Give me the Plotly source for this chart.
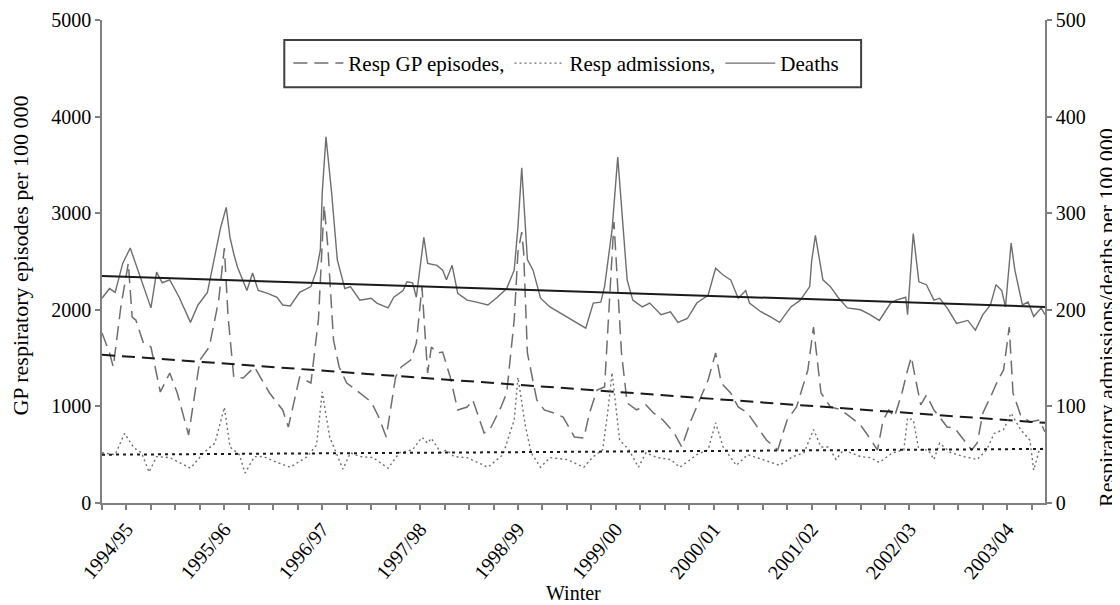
import plotly.graph_objects as go

# ---------------- data (x = weeks from start of series) ----------------
winter_labels = ["1994/95", "1995/96", "1996/97", "1997/98", "1998/99",
                 "1999/00", "2000/01", "2001/02", "2002/03", "2003/04"]
winter_weeks = [13, 65, 117, 169, 221, 273, 325, 377, 429, 481]

gp_weeks = [0, 4, 6, 10, 14, 16, 18, 22, 26, 31, 36, 40, 46, 52, 57, 62, 65, 67, 70, 75,
            81, 84, 89, 96, 99, 105, 111, 115, 117, 118, 120, 123, 126, 130, 135, 143, 147, 151, 156, 159,
            164, 167, 170, 173, 175, 178, 181, 185, 189, 194, 197, 203, 206, 212, 215, 219, 221, 223, 224, 226,
            231, 235, 240, 245, 251, 256, 259, 263, 267, 269, 272, 276, 279, 284, 289, 293, 298, 304, 308, 313,
            318, 322, 326, 329, 334, 338, 343, 348, 353, 359, 364, 369, 375, 378, 382, 387, 392, 397, 403, 406,
            412, 415, 418, 421, 425, 428, 430, 432, 435, 438, 442, 445, 449, 453, 458, 462, 465, 468, 473, 476,
            479, 482, 484, 488, 493, 498, 501]
gp_episodes = [1760, 1553, 1408, 2029, 2484, 1925, 1894, 1656, 1615, 1149, 1346, 1139, 704, 1480, 1615, 2100, 2640, 1925, 1304, 1294,
               1408, 1304, 1139, 963, 787, 1304, 1242, 1900, 2650, 3085, 2650, 1687, 1408, 1242, 1170, 1046, 890, 683, 1304, 1408,
               1480, 1656, 2236, 1346, 1615, 1553, 1563, 1304, 963, 994, 1066, 725, 756, 994, 1139, 1894, 2600, 2805, 2600, 1553,
               1066, 963, 932, 890, 683, 673, 932, 1170, 1201, 1894, 2909, 1553, 1035, 963, 1015, 932, 859, 725, 580, 859,
               1097, 1273, 1553, 1242, 1139, 994, 932, 787, 652, 549, 859, 994, 1377, 1822, 1139, 994, 970, 900, 807, 725,
               549, 859, 963, 890, 1139, 1377, 1511, 1304, 1015, 1118, 963, 890, 787, 776, 652, 549, 621, 932, 1139, 1273,
               1377, 1822, 1139, 911, 838, 859, 735]

adm_weeks = [0, 7, 12, 17, 21, 25, 29, 36, 47, 54, 60, 65, 68, 73, 76, 81, 86, 93, 100, 109,
             114, 117, 121, 128, 132, 137, 144, 152, 158, 165, 170, 173, 175, 180, 183, 187, 194, 205, 213, 219,
             221, 225, 228, 233, 238, 247, 256, 261, 266, 269, 271, 275, 280, 285, 289, 295, 302, 307, 316, 322,
             326, 330, 337, 343, 351, 360, 367, 373, 378, 382, 386, 390, 394, 398, 403, 408, 413, 420, 426, 428,
             431, 434, 439, 442, 445, 451, 458, 465, 470, 474, 479, 483, 488, 493, 495, 498, 501]
resp_admissions = [52, 50, 72, 57, 52, 32, 48, 47, 36, 52, 62, 99, 58, 50, 31, 48, 48, 42, 37, 48,
                   60, 115, 68, 35, 52, 48, 47, 36, 52, 55, 68, 62, 67, 52, 55, 48, 47, 37, 50, 86,
                   130, 79, 52, 37, 47, 45, 37, 48, 55, 99, 135, 65, 55, 37, 52, 47, 45, 37, 50, 55,
                   83, 58, 39, 50, 45, 39, 48, 52, 76, 58, 58, 45, 55, 52, 48, 47, 42, 52, 55, 88,
                   86, 55, 55, 45, 62, 52, 48, 45, 55, 72, 76, 93, 76, 65, 34, 55, 58]

death_weeks = [0, 4, 7, 11, 15, 19, 26, 29, 32, 36, 41, 47, 51, 56, 60, 63, 66, 68, 70, 72,
               77, 80, 83, 88, 93, 96, 100, 105, 111, 114, 116, 117, 119, 122, 125, 129, 132, 137, 143, 146,
               152, 155, 160, 162, 165, 167, 171, 173, 178, 181, 183, 186, 189, 194, 199, 205, 210, 215, 219, 221,
               223, 225, 226, 229, 233, 238, 243, 250, 257, 261, 265, 267, 271, 274, 277, 279, 282, 287, 291, 297,
               302, 306, 311, 316, 322, 326, 330, 334, 338, 342, 344, 350, 355, 360, 366, 371, 376, 377, 379, 381,
               383, 387, 391, 396, 403, 408, 413, 419, 422, 427, 428, 431, 434, 438, 442, 445, 449, 454, 460, 464,
               468, 472, 475, 478, 480, 483, 485, 489, 492, 495, 499, 501]
deaths = [212, 222, 218, 248, 264, 241, 202, 239, 228, 231, 213, 187, 205, 218, 255, 285, 306, 275, 258, 244,
          220, 238, 220, 217, 213, 205, 204, 218, 224, 241, 262, 321, 379, 321, 252, 222, 224, 210, 212, 207,
          202, 213, 220, 229, 228, 213, 275, 248, 246, 241, 231, 246, 217, 210, 208, 205, 213, 222, 241, 286,
          347, 286, 252, 241, 212, 203, 197, 189, 181, 207, 208, 224, 283, 358, 286, 231, 210, 203, 207, 195,
          198, 187, 191, 207, 215, 243, 236, 231, 212, 220, 207, 198, 193, 187, 203, 210, 224, 250, 277, 255,
          231, 224, 213, 202, 200, 195, 189, 207, 210, 213, 195, 279, 229, 226, 210, 212, 202, 186, 189, 179,
          195, 205, 226, 220, 203, 269, 241, 205, 208, 193, 202, 195]

# linear trends (end points)
trend_weeks = [0, 501]
gp_trend = [1535, 830]
adm_trend = [50, 56]
deaths_trend = [235, 203]

# ---------------- figure ----------------
FONT = "Liberation Serif"
AXIS_GREY = "#808080"
DATA_GREY = "#6e6e6e"

fig = go.Figure()

fig.add_trace(go.Scatter(x=gp_weeks, y=gp_episodes, mode="lines", name="Resp GP episodes,",
                         line=dict(color=DATA_GREY, width=1.5, dash="14px,7px"), yaxis="y"))
fig.add_trace(go.Scatter(x=adm_weeks, y=resp_admissions, mode="lines", name="Resp admissions,",
                         line=dict(color=DATA_GREY, width=1.4, dash="2px,3px"), yaxis="y2"))
fig.add_trace(go.Scatter(x=death_weeks, y=deaths, mode="lines", name="Deaths",
                         line=dict(color=DATA_GREY, width=1.4), yaxis="y2"))

fig.add_trace(go.Scatter(x=trend_weeks, y=gp_trend, mode="lines", showlegend=False,
                         line=dict(color="#1a1a1a", width=2, dash="13px,7px"), yaxis="y"))
fig.add_trace(go.Scatter(x=trend_weeks, y=adm_trend, mode="lines", showlegend=False,
                         line=dict(color="#1a1a1a", width=2, dash="3px,4px"), yaxis="y2"))
fig.add_trace(go.Scatter(x=trend_weeks, y=deaths_trend, mode="lines", showlegend=False,
                         line=dict(color="#1a1a1a", width=2), yaxis="y2"))

axis_common = dict(showline=True, linecolor=AXIS_GREY, linewidth=1.5, ticks="outside",
                   ticklen=5, tickwidth=1.5, tickcolor=AXIS_GREY, showgrid=False, zeroline=False,
                   automargin=False, tickfont=dict(family=FONT, size=20, color="black"))

# the page body has an 8px margin, so the figure is drawn 8px in and 8px smaller
fig.update_layout(
    width=1112, height=597,
    margin=dict(l=94, r=75, t=12, b=102),
    paper_bgcolor="white", plot_bgcolor="white",
    font=dict(family=FONT, size=20, color="black"),
    xaxis=dict(range=[0, 501], tickmode="array", tickvals=winter_weeks, ticktext=winter_labels,
               tickangle=-50,
               minor=dict(tick0=0, dtick=13, ticks="outside", ticklen=5, tickwidth=1.5,
                          tickcolor=AXIS_GREY, showgrid=False),
               **axis_common),
    yaxis=dict(range=[0, 5000], dtick=1000, tickformat="d", **axis_common),
    yaxis2=dict(range=[0, 500], dtick=100, overlaying="y", side="right", anchor="x",
                tickformat="d", **axis_common),
    showlegend=True,
    legend=dict(orientation="h", x=0.1976, y=0.91, xanchor="left", yanchor="middle",
                bgcolor="rgba(0,0,0,0)", borderwidth=0, itemwidth=50,
                font=dict(family=FONT, size=21, color="black")),
    shapes=[dict(type="rect", xref="paper", yref="paper", x0=0.1933, x1=0.805, y0=0.861, y1=0.9586,
                 line=dict(color="#404040", width=2), fillcolor="rgba(0,0,0,0)")],
    annotations=[
        dict(text="GP respiratory episodes per 100 000", xref="paper", yref="paper",
             x=-0.0866, y=0.513, textangle=-90, showarrow=False, xanchor="center", yanchor="middle",
             font=dict(family=FONT, size=22, color="black")),
        dict(text="Respiratory admissions/deaths per 100 000", xref="paper", yref="paper",
             x=1.0647, y=0.383, textangle=-90, showarrow=False, xanchor="center", yanchor="middle",
             font=dict(family=FONT, size=22, color="black")),
        dict(text="Winter", xref="paper", yref="paper", x=0.5, y=-0.1863, showarrow=False,
             xanchor="center", yanchor="middle", font=dict(family=FONT, size=20, color="black")),
    ],
)

fig.write_html("out.html")
